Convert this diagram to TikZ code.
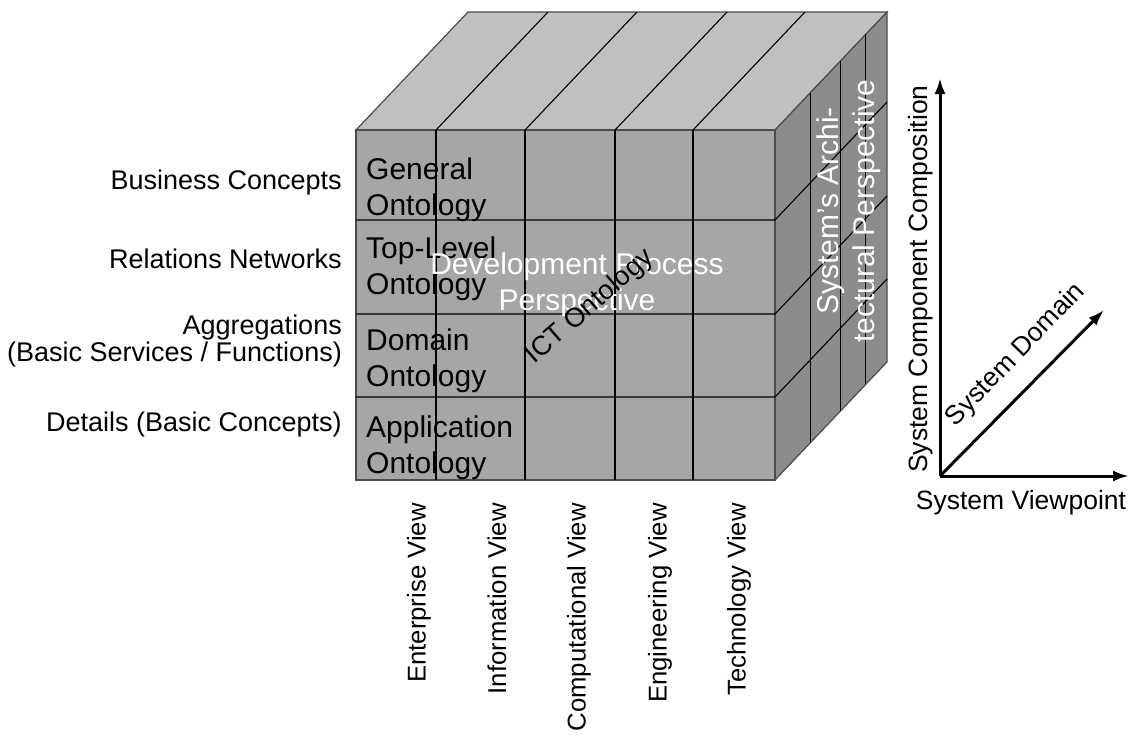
\documentclass[tikz,border=0pt]{standalone}
\usepackage{fontspec}
\setmainfont{Liberation Sans}
\usepackage{tikz}
\usetikzlibrary{calc}
\usetikzlibrary{arrows.meta}
\definecolor{frontgray}{RGB}{166,166,166}
\definecolor{topgray}{RGB}{192,192,192}
\definecolor{sidegray}{RGB}{140,140,140}
\tikzstyle{cubeface} = [draw=black!70, line width=1.2pt]
\tikzstyle{gridline} = [draw=black, line width=1.1pt]
\tikzstyle{rowlabel} = [anchor=east, align=right, inner sep=0pt,
    font=\fontsize{27}{23}\selectfont]
\tikzstyle{ontology} = [anchor=west, align=left, inner sep=0pt,
    font=\fontsize{30}{36}\selectfont]
\tikzstyle{perspective} = [text=white, align=center, inner sep=0pt,
    font=\fontsize{30}{36}\selectfont]
\tikzstyle{viewlabel} = [rotate=90, anchor=east, inner sep=0pt,
    font=\fontsize{25.7}{30}\selectfont]
\tikzstyle{axislabel} = [inner sep=0pt, font=\fontsize{26.5}{32}\selectfont]
\tikzstyle{axisarrow} = [line width=3pt, -{Latex[length=16pt,width=11pt]}]

\begin{document}
\begin{tikzpicture}[x=1pt, y=-1pt]
\useasboundingbox (0,0) rectangle (1131,740);

% cube corners
\coordinate (ftl) at (356,130);
\coordinate (ftr) at (775,130);
\coordinate (fbr) at (775,480);
\coordinate (btl) at (468,12);
\coordinate (btr) at (887,12);
\coordinate (bbr) at (887,362);

% faces
\filldraw[cubeface, fill=topgray] (ftl) -- (btl) -- (btr) -- (ftr) -- cycle;
\filldraw[cubeface, fill=sidegray] (ftr) -- (btr) -- (bbr) -- (fbr) -- cycle;
\filldraw[cubeface, fill=frontgray] (ftl) rectangle (fbr);

% views
\foreach \x in {436,525,615,693} {
    \draw[gridline] (\x,130) -- (\x,480);
    \draw[gridline] (\x,130) -- ++(112,-118);
}
% levels
\foreach \y in {220,314,397} {
    \draw[gridline] (356,\y) -- (775,\y) -- ++(112,-118);
}
% architecture depth
\foreach \t in {0.315,0.585,0.81} {
    \draw[gridline] ($(ftr)!\t!(btr)$) -- ($(fbr)!\t!(bbr)$);
}

% level labels
\node (business) [rowlabel] at (342,183) {Business Concepts};
\node (relations) [rowlabel] at (342,259) {Relations Networks};
\node (aggr) [rowlabel] at (342,341) {Aggregations\\(Basic Services / Functions)};
\node (details) [rowlabel] at (342,425) {Details (Basic Concepts)};

% ontologies
\node (general) [ontology] at (366,190) {General\\Ontology};
\node (toplevel) [ontology] at (366,269) {Top-Level\\Ontology};
\node (domain) [ontology] at (366,361) {Domain\\Ontology};
\node (application) [ontology] at (366,448) {Application\\Ontology};

\node (devproc) [perspective] at (577,285) {Development Process\\Perspective};
\node (ict) [inner sep=0pt, rotate=41, font=\fontsize{27}{32}\selectfont] at (590,307) {ICT Ontology};
\node (archi) [perspective, rotate=90] at (849,211) {System's Archi-\\tectural Perspective};

% views
\foreach \x/\name in {419/Enterprise, 497/Information, 579/Computational, 660/Engineering, 739/Technology} {
    \node (\name) [viewlabel] at (\x,503) {\name{} View};
}

% axes
\coordinate (origin) at (940,476);
\coordinate (upend) at (940,78);
\coordinate (rightend) at (1129,476);
\coordinate (diagend) at (1104,310);
\draw[axisarrow] (origin) -- (upend);
\draw[axisarrow] (origin) -- (rightend);
\draw[axisarrow] (origin) -- (diagend);
\node (composition) [axislabel, rotate=90] at (921,279) {System Component Composition};
\node (viewpoint) [axislabel] at (1021,503) {System Viewpoint};
\node (sysdomain) [axislabel, rotate=46] at (1016,355) {System Domain};
\end{tikzpicture}
\end{document}
